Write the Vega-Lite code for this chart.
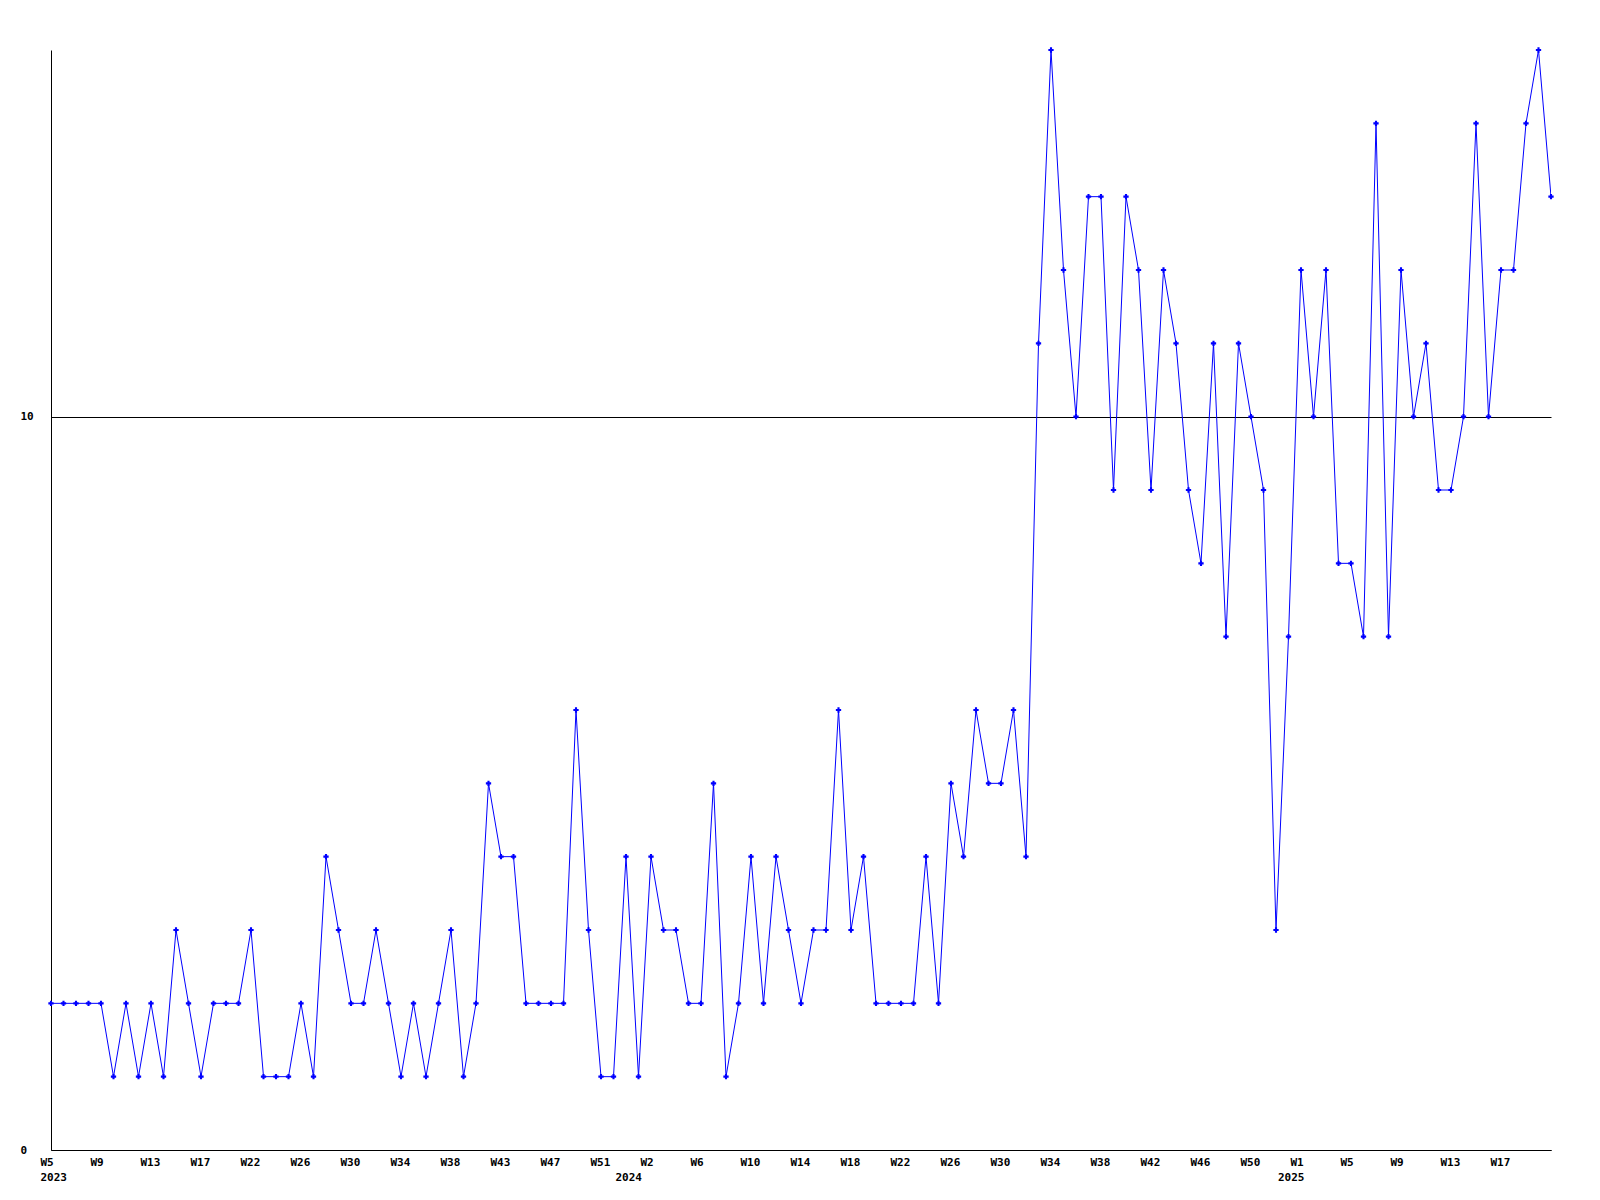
{
  "$schema": "https://vega.github.io/schema/vega-lite/v6.json",
  "width": 1500,
  "height": 1100,
  "autosize": {"type": "none"},
  "padding": {"left": 51, "top": 50, "right": 49, "bottom": 50},
  "background": "white",
  "config": {
    "view": {"stroke": null},
    "axis": {
      "labelFont": "DejaVu Sans Mono",
      "labelFontSize": 11,
      "labelFontWeight": "bold",
      "labelColor": "black",
      "domainColor": "black",
      "domainWidth": 1,
      "ticks": false,
      "tickSize": 0,
      "title": null
    }
  },
  "data": {
    "values": [
      {"n":0,"v":2},{"n":1,"v":2},{"n":2,"v":2},{"n":3,"v":2},{"n":4,"v":2},
      {"n":5,"v":1},{"n":6,"v":2},{"n":7,"v":1},{"n":8,"v":2},{"n":9,"v":1},
      {"n":10,"v":3},{"n":11,"v":2},{"n":12,"v":1},{"n":13,"v":2},{"n":14,"v":2},
      {"n":15,"v":2},{"n":16,"v":3},{"n":17,"v":1},{"n":18,"v":1},{"n":19,"v":1},
      {"n":20,"v":2},{"n":21,"v":1},{"n":22,"v":4},{"n":23,"v":3},{"n":24,"v":2},
      {"n":25,"v":2},{"n":26,"v":3},{"n":27,"v":2},{"n":28,"v":1},{"n":29,"v":2},
      {"n":30,"v":1},{"n":31,"v":2},{"n":32,"v":3},{"n":33,"v":1},{"n":34,"v":2},
      {"n":35,"v":5},{"n":36,"v":4},{"n":37,"v":4},{"n":38,"v":2},{"n":39,"v":2},
      {"n":40,"v":2},{"n":41,"v":2},{"n":42,"v":6},{"n":43,"v":3},{"n":44,"v":1},
      {"n":45,"v":1},{"n":46,"v":4},{"n":47,"v":1},{"n":48,"v":4},{"n":49,"v":3},
      {"n":50,"v":3},{"n":51,"v":2},{"n":52,"v":2},{"n":53,"v":5},{"n":54,"v":1},
      {"n":55,"v":2},{"n":56,"v":4},{"n":57,"v":2},{"n":58,"v":4},{"n":59,"v":3},
      {"n":60,"v":2},{"n":61,"v":3},{"n":62,"v":3},{"n":63,"v":6},{"n":64,"v":3},
      {"n":65,"v":4},{"n":66,"v":2},{"n":67,"v":2},{"n":68,"v":2},{"n":69,"v":2},
      {"n":70,"v":4},{"n":71,"v":2},{"n":72,"v":5},{"n":73,"v":4},{"n":74,"v":6},
      {"n":75,"v":5},{"n":76,"v":5},{"n":77,"v":6},{"n":78,"v":4},{"n":79,"v":11},
      {"n":80,"v":15},{"n":81,"v":12},{"n":82,"v":10},{"n":83,"v":13},{"n":84,"v":13},
      {"n":85,"v":9},{"n":86,"v":13},{"n":87,"v":12},{"n":88,"v":9},{"n":89,"v":12},
      {"n":90,"v":11},{"n":91,"v":9},{"n":92,"v":8},{"n":93,"v":11},{"n":94,"v":7},
      {"n":95,"v":11},{"n":96,"v":10},{"n":97,"v":9},{"n":98,"v":3},{"n":99,"v":7},
      {"n":100,"v":12},{"n":101,"v":10},{"n":102,"v":12},{"n":103,"v":8},{"n":104,"v":8},
      {"n":105,"v":7},{"n":106,"v":14},{"n":107,"v":7},{"n":108,"v":12},{"n":109,"v":10},
      {"n":110,"v":11},{"n":111,"v":9},{"n":112,"v":9},{"n":113,"v":10},{"n":114,"v":14},
      {"n":115,"v":10},{"n":116,"v":12},{"n":117,"v":12},{"n":118,"v":14},{"n":119,"v":15},
      {"n":120,"v":13}
    ]
  },
  "layer": [
    {
      "mark": {"type": "line", "color": "#0000ff", "strokeWidth": 1, "clip": true},
      "encoding": {
        "x": {
          "field": "n", "type": "quantitative",
          "scale": {"domain": [0, 120], "nice": false, "zero": false},
          "axis": {
            "orient": "bottom",
            "values": [0,4,8,12,16,20,24,28,32,36,40,44,48,52,56,60,64,68,72,76,80,84,88,92,96,100,104,108,112,116],
            "labelExpr": "['W5','W9','W13','W17','W22','W26','W30','W34','W38','W43','W47','W51','W2','W6','W10','W14','W18','W22','W26','W30','W34','W38','W42','W46','W50','W1','W5','W9','W13','W17'][round(datum.value/4)]",
            "labelAlign": "left",
            "labelOffset": -11,
            "labelBaseline": "top",
            "labelPadding": 6,
            "grid": false,
            "domain": true,
            "labelOverlap": false,
            "labelBound": false,
            "labelFlush": false
          }
        },
        "y": {
          "field": "v", "type": "quantitative",
          "scale": {"domain": [0, 15], "nice": false},
          "axis": {
            "values": [0, 10],
            "format": "d",
            "grid": true,
            "gridColor": "black",
            "gridOpacity": 1,
            "gridWidth": 1,
            "labelAlign": "left",
            "labelBaseline": "middle",
            "labelPadding": 31,
            "domain": true
          }
        }
      }
    },
    {
      "mark": {"type": "point", "shape": "cross", "filled": true, "size": 28, "color": "#0000ff", "opacity": 1, "clip": false},
      "encoding": {
        "x": {
          "field": "n", "type": "quantitative",
          "axis": {
            "orient": "bottom",
            "values": [0, 46, 99],
            "labelExpr": "datum.value == 0 ? '2023' : (datum.value == 46 ? '2024' : '2025')",
            "labelAlign": "left",
            "labelOffset": -11,
            "labelBaseline": "top",
            "labelPadding": 21,
            "grid": false,
            "domain": false,
            "labelOverlap": false,
            "labelBound": false,
            "labelFlush": false
          }
        },
        "y": {"field": "v", "type": "quantitative"}
      }
    }
  ],
  "resolve": {"axis": {"x": "independent"}}
}
